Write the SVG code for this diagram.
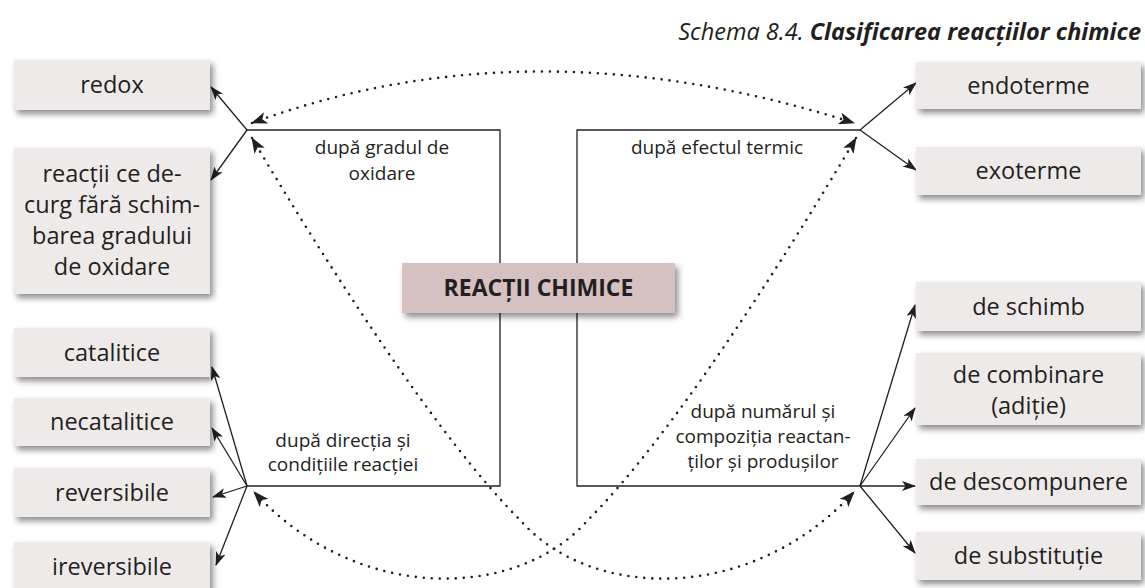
<svg xmlns="http://www.w3.org/2000/svg" width="1145" height="588" viewBox="0 0 1145 588">
  <style>
    .box { fill: #efeaea; filter: url(#shadow); }
    .core { fill: #d6c1c2; filter: url(#shadow); }
    .lbl { font-family: "Open Sans", "Noto Sans", sans-serif; font-size: 23.5px; fill: #231f20; text-anchor: middle; }
    .core-lbl { font-family: "Open Sans", "Noto Sans", sans-serif; font-size: 23px; font-weight: bold; fill: #231f20; text-anchor: middle; }
    .crit { font-family: "Open Sans", "Noto Sans", sans-serif; font-size: 19px; fill: #231f20; text-anchor: middle; }
    .title { font-family: "Open Sans", "Noto Sans", sans-serif; font-size: 23.5px; font-style: italic; fill: #231f20; text-anchor: end; }
    .frame { fill: none; stroke: #231f20; stroke-width: 1.3; }
    .arrow { fill: none; stroke: #231f20; stroke-width: 1.3; marker-end: url(#ah); }
    .dots { fill: none; stroke: #231f20; stroke-width: 2.6; stroke-linecap: round; stroke-dasharray: 0 8; marker-start: url(#ahd); marker-end: url(#ahd); }
  </style>
  <defs>
    <filter id="shadow" x="-10%" y="-20%" width="125%" height="160%">
      <feDropShadow dx="3" dy="4" stdDeviation="3" flood-color="#000" flood-opacity="0.45"/>
    </filter>
    <marker id="ah" viewBox="0 0 14 10" refX="13" refY="5" markerWidth="14" markerHeight="10" markerUnits="userSpaceOnUse" orient="auto">
      <path d="M0,0 L14,5 L0,10 L3.5,5 z" fill="#231f20"/>
    </marker>
    <marker id="ahd" viewBox="0 0 16 12" refX="15" refY="6" markerWidth="16" markerHeight="12" markerUnits="userSpaceOnUse" orient="auto-start-reverse">
      <path d="M0,0 L16,6 L0,12 L4,6 z" fill="#231f20"/>
    </marker>
  </defs>

  <!-- caption -->
  <text class="title" x="1141" y="40">Schema 8.4. <tspan font-weight="bold">Clasificarea reacțiilor chimice</tspan></text>

  <g id="connectors">
    <!-- criterion frames -->
    <polyline class="frame" points="247,130 500,130 500,486 247,486"/>
    <polyline class="frame" points="860,130 577,130 577,486 860,486"/>
    <!-- after oxidation state -->
    <line class="arrow" x1="247" y1="130" x2="211" y2="87"/>
    <line class="arrow" x1="247" y1="130" x2="211" y2="180"/>
    <!-- after thermal effect -->
    <line class="arrow" x1="860" y1="130" x2="916" y2="83"/>
    <line class="arrow" x1="860" y1="130" x2="916" y2="170"/>
    <!-- after direction and conditions -->
    <line class="arrow" x1="247" y1="486" x2="212" y2="367"/>
    <line class="arrow" x1="247" y1="486" x2="212" y2="428"/>
    <line class="arrow" x1="247" y1="486" x2="213" y2="497"/>
    <line class="arrow" x1="247" y1="486" x2="216" y2="565"/>
    <!-- after number and composition -->
    <line class="arrow" x1="860" y1="486" x2="915" y2="305"/>
    <line class="arrow" x1="860" y1="486" x2="915" y2="408"/>
    <line class="arrow" x1="860" y1="486" x2="915" y2="486"/>
    <line class="arrow" x1="860" y1="486" x2="915" y2="553"/>
    <!-- dotted relations between criteria -->
    <path class="dots" d="M252,123 Q532,20 854,123"/>
    <path class="dots" d="M252,138 C330,270 440,440 520,520 C590,600 750,605 854,492"/>
    <path class="dots" d="M856,138 C778,270 668,440 588,520 C518,600 358,605 254,492"/>
  </g>

  <g id="reactii-chimice">
    <rect class="core" x="402" y="263" width="273" height="50"/>
    <text class="core-lbl" x="538.5" y="296">REACȚII CHIMICE</text>
  </g>

  <g id="crit-oxidare">
    <text class="crit" x="382" y="154">după gradul de</text>
    <text class="crit" x="382" y="180">oxidare</text>
  </g>
  <g id="crit-termic">
    <text class="crit" x="717" y="154">după efectul termic</text>
  </g>
  <g id="crit-directie">
    <text class="crit" x="343" y="447">după direcția și</text>
    <text class="crit" x="343" y="471">condițiile reacției</text>
  </g>
  <g id="crit-numar">
    <text class="crit" x="763" y="418">după numărul și</text>
    <text class="crit" x="763" y="443">compoziția reactan-</text>
    <text class="crit" x="763" y="468">ților și produșilor</text>
  </g>

  <g id="redox">
    <rect class="box" x="14" y="60" width="196" height="50"/>
    <text class="lbl" x="112" y="93">redox</text>
  </g>
  <g id="fara-schimbare">
    <rect class="box" x="14" y="148" width="196" height="146"/>
    <text class="lbl" x="112" y="182">reacții ce de-</text>
    <text class="lbl" x="112" y="213">curg fără schim-</text>
    <text class="lbl" x="112" y="244">barea gradului</text>
    <text class="lbl" x="112" y="275">de oxidare</text>
  </g>
  <g id="catalitice">
    <rect class="box" x="14" y="328" width="196" height="49"/>
    <text class="lbl" x="112" y="361">catalitice</text>
  </g>
  <g id="necatalitice">
    <rect class="box" x="14" y="398" width="196" height="48"/>
    <text class="lbl" x="112" y="430">necatalitice</text>
  </g>
  <g id="reversibile">
    <rect class="box" x="14" y="468" width="196" height="49"/>
    <text class="lbl" x="112" y="501">reversibile</text>
  </g>
  <g id="ireversibile">
    <rect class="box" x="14" y="542" width="196" height="50"/>
    <text class="lbl" x="112" y="575">ireversibile</text>
  </g>

  <g id="endoterme">
    <rect class="box" x="916" y="62" width="225" height="47"/>
    <text class="lbl" x="1028.5" y="94">endoterme</text>
  </g>
  <g id="exoterme">
    <rect class="box" x="916" y="147" width="225" height="48"/>
    <text class="lbl" x="1028.5" y="179">exoterme</text>
  </g>
  <g id="de-schimb">
    <rect class="box" x="916" y="282" width="225" height="49"/>
    <text class="lbl" x="1028.5" y="315">de schimb</text>
  </g>
  <g id="de-combinare">
    <rect class="box" x="916" y="353" width="225" height="72"/>
    <text class="lbl" x="1028.5" y="383">de combinare</text>
    <text class="lbl" x="1028.5" y="414">(adiție)</text>
  </g>
  <g id="de-descompunere">
    <rect class="box" x="916" y="459" width="225" height="46"/>
    <text class="lbl" x="1028.5" y="490">de descompunere</text>
  </g>
  <g id="de-substitutie">
    <rect class="box" x="916" y="532" width="225" height="48"/>
    <text class="lbl" x="1028.5" y="564">de substituție</text>
  </g>
</svg>
